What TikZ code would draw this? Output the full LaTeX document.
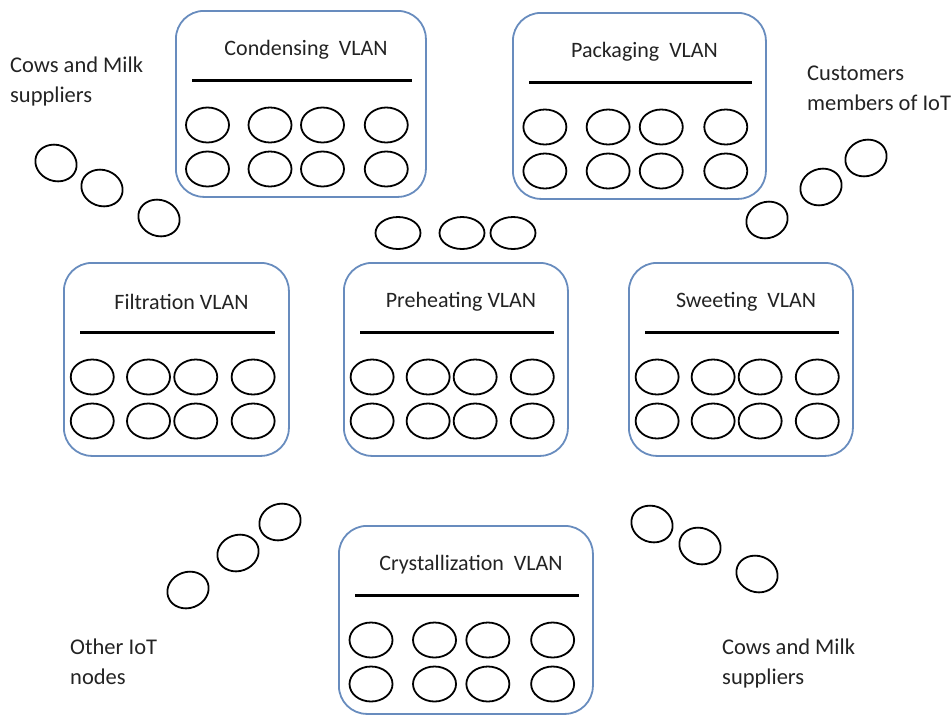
\documentclass[tikz,border=0pt]{standalone}
\usepackage{fontspec}
\setmainfont{Carlito}
\usepackage{tikz}
\usetikzlibrary{positioning, shapes.geometric}
\usepackage{xcolor}
\definecolor{vlanblue}{RGB}{104,140,190}
\definecolor{txtgray}{RGB}{35,35,35}

\tikzset{
    vlanbox/.style={draw=vlanblue, line width=1.8pt, rounded corners=28pt, inner sep=0pt, anchor=north west},
    vlantitle/.style={font=\fontsize{22}{26}\selectfont, text=txtgray, inner sep=0pt},
    bar/.style={line width=3pt},
    dev/.style={ellipse, draw, line width=1.8pt, minimum width=43pt, minimum height=35pt, inner sep=0pt},
    freedev/.style={dev, minimum width=42pt, minimum height=36pt},
    grouplabel/.style={font=\fontsize{22.5}{30}\selectfont, text=txtgray, align=left, anchor=north west, inner sep=0pt}
}

\begin{document}
\begin{tikzpicture}[x=1pt, y=-1pt]
    \useasboundingbox (0,0) rectangle (952,716);
    % VLAN boxes: name/left/top/width/height/title
    \foreach \n/\l/\t/\w/\h/\txt in {
        cond/175/10/250/186/{Condensing~ VLAN},
        pack/512/12/253/186/{Packaging~ VLAN},
        filt/63/262/225/193/{Filtration VLAN},
        preh/343/262/224/193/{Preheating VLAN},
        sweet/628/262/224/193/{Sweeting~ VLAN},
        cryst/338/525/254/188/{Crystallization~ VLAN}} {
        \node[vlanbox, minimum width=\w pt, minimum height=\h pt] (\n) at (\l,\t) {};
        \node[vlantitle] (\n-title) at (\l+\w/2+6, \t+40) {\txt};
        \coordinate (\n-ls) at (\l+17, \t+70);
        \coordinate (\n-le) at (\l+\w-13, \t+70);
        \draw[bar] (\n-ls) -- (\n-le);
        \foreach \c/\f in {1/0.13, 2/0.38, 3/0.59, 4/0.845}
            \foreach \r/\dy in {1/115, 2/159}
                \node[dev] (\n-\r\c) at (\l+\w*\f, \t+\dy) {};
    }

    % free IoT nodes
    \node[freedev, rotate=-20] (tl1) at (56,163) {};
    \node[freedev, rotate=-20] (tl2) at (102,188) {};
    \node[freedev, rotate=-20] (tl3) at (159,218) {};

    \node[freedev, rotate=20] (tr1) at (767,220) {};
    \node[freedev, rotate=20] (tr2) at (821,187) {};
    \node[freedev, rotate=20] (tr3) at (866,158) {};

    \node[dev, minimum width=45pt, minimum height=32pt] (mid1) at (398,233) {};
    \node[dev, minimum width=45pt, minimum height=32pt] (mid2) at (462,233) {};
    \node[dev, minimum width=45pt, minimum height=32pt] (mid3) at (513,233) {};

    \node[freedev, rotate=20] (bl1) at (188,590) {};
    \node[freedev, rotate=20] (bl2) at (238,553) {};
    \node[freedev, rotate=20] (bl3) at (280,522) {};

    \node[freedev, rotate=-20] (br1) at (652,524) {};
    \node[freedev, rotate=-20] (br2) at (700,546) {};
    \node[freedev, rotate=-20] (br3) at (757,574) {};

    % group labels
    \node[grouplabel] (cows1) at (10,57) {Cows and Milk\\suppliers};
    \node[grouplabel] (cust) at (807,66) {Customers\\members of IoT};
    \node[grouplabel] (other) at (70,639) {Other IoT\\nodes};
    \node[grouplabel] (cows2) at (722,639) {Cows and Milk\\suppliers};
\end{tikzpicture}
\end{document}
